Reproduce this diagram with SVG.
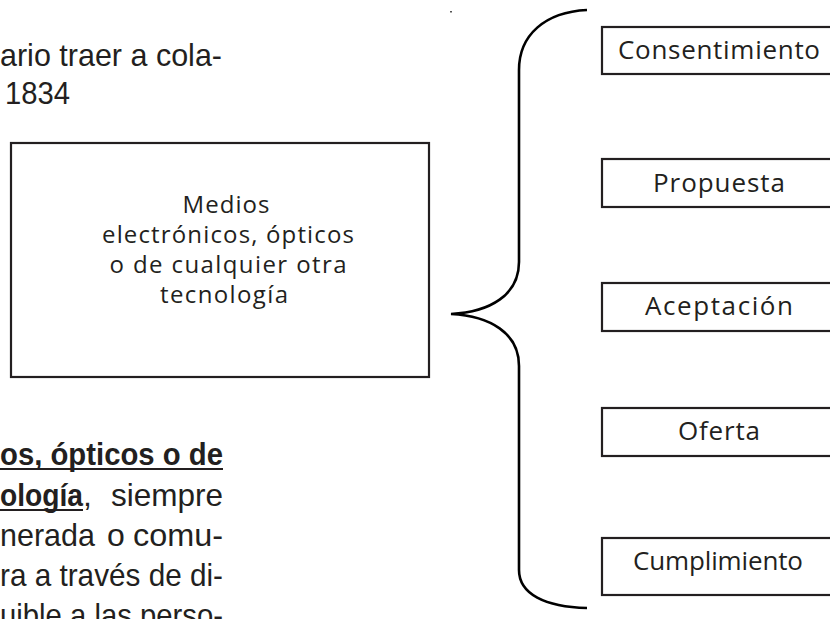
<svg xmlns="http://www.w3.org/2000/svg" width="830" height="619" viewBox="0 0 830 619">
<style>
.body{font-family:"Liberation Sans",Arial,sans-serif;font-size:32px;fill:#231f20}
.bold{font-weight:bold}
.lbl{font-family:"Open Sans","Noto Sans",sans-serif;font-size:24px;fill:#231f20}
.rl{font-size:26px}
.box{fill:#fff;stroke:#231f20;stroke-width:2.2}
.brace{fill:none;stroke:#000;stroke-width:2.6}
.ul{stroke:#231f20;stroke-width:2.2}
</style>
<rect width="830" height="619" fill="#fff"/>

<g id="text-top">
<text class="body" x="0" y="66" textLength="222" lengthAdjust="spacingAndGlyphs">ario traer a cola-</text>
<text class="body" x="5" y="104" textLength="65" lengthAdjust="spacingAndGlyphs">1834</text>
</g>
<g id="text-bottom">
<text class="body bold" x="0" y="465" textLength="223" lengthAdjust="spacingAndGlyphs">os, ópticos o de</text>
<line class="ul" x1="0" y1="469" x2="223" y2="469"/>
<text class="body" x="0" y="506"><tspan class="bold" textLength="83" lengthAdjust="spacingAndGlyphs">ología</tspan>,</text>
<line class="ul" x1="0" y1="510" x2="83" y2="510"/>
<text class="body" x="223" y="506" text-anchor="end" textLength="112" lengthAdjust="spacingAndGlyphs">siempre</text>
<text class="body" x="0" y="546" textLength="95" lengthAdjust="spacingAndGlyphs">nerada</text>
<text class="body" x="107" y="546">o</text>
<text class="body" x="223" y="546" text-anchor="end" textLength="90" lengthAdjust="spacingAndGlyphs">comu-</text>
<text class="body" x="0" y="586" textLength="223" lengthAdjust="spacingAndGlyphs">ra a través de di-</text>
<text class="body" x="0" y="626" textLength="223" lengthAdjust="spacingAndGlyphs">uible a las perso-</text>
</g>
<rect x="450" y="11" width="2" height="1.5" fill="#555"/>

<g id="medios">
<rect class="box" x="11" y="143" width="418" height="234"/>
<text class="lbl" text-anchor="middle" x="226" y="213" textLength="87" lengthAdjust="spacing">Medios</text>
<text class="lbl" text-anchor="middle" x="228" y="243" textLength="252" lengthAdjust="spacing">electrónicos, ópticos</text>
<text class="lbl" text-anchor="middle" x="228" y="273" textLength="237" lengthAdjust="spacing">o de cualquier otra</text>
<text class="lbl" text-anchor="middle" x="224" y="303" textLength="128" lengthAdjust="spacing">tecnología</text>
</g>

<g id="connectors">
<path class="brace" d="M587,10 C545,12 519,35 519,70 L519,262 C519,295 490,312 451,314 C490,316 519,333 519,366 L519,570 C519,594 545,607 587,608"/>
</g>

<g id="consentimiento">
<rect class="box" x="602" y="27" width="240" height="47"/>
<text class="lbl rl" x="618" y="59" textLength="202" lengthAdjust="spacing">Consentimiento</text>
</g>
<g id="propuesta">
<rect class="box" x="602" y="159" width="240" height="48"/>
<text class="lbl rl" x="653" y="192" textLength="132" lengthAdjust="spacing">Propuesta</text>
</g>
<g id="aceptacion">
<rect class="box" x="602" y="283" width="240" height="48"/>
<text class="lbl rl" x="645" y="315" textLength="148" lengthAdjust="spacing">Aceptación</text>
</g>
<g id="oferta">
<rect class="box" x="602" y="408" width="240" height="48"/>
<text class="lbl rl" x="678" y="440" textLength="82" lengthAdjust="spacing">Oferta</text>
</g>
<g id="cumplimiento">
<rect class="box" x="602" y="538" width="240" height="57"/>
<text class="lbl rl" x="633" y="570" textLength="170" lengthAdjust="spacing">Cumplimiento</text>
</g>
</svg>
